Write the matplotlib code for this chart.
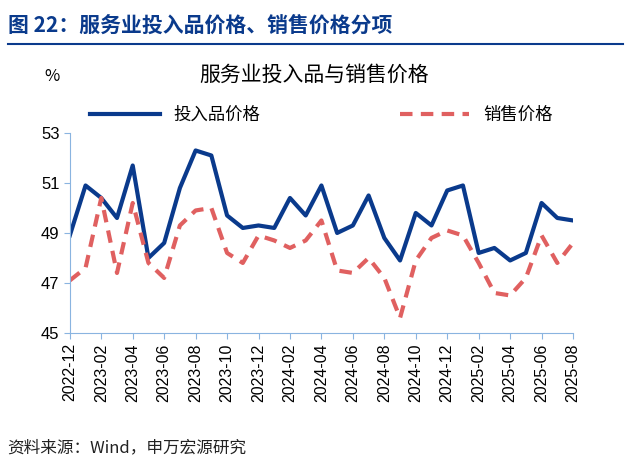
import matplotlib.pyplot as plt
import matplotlib.lines as mlines

plt.rcParams['font.family'] = 'Noto Sans CJK SC'

months = ['2022-12', '2023-01', '2023-02', '2023-03', '2023-04', '2023-05', '2023-06', '2023-07',
          '2023-08', '2023-09', '2023-10', '2023-11', '2023-12', '2024-01', '2024-02', '2024-03',
          '2024-04', '2024-05', '2024-06', '2024-07', '2024-08', '2024-09', '2024-10', '2024-11',
          '2024-12', '2025-01', '2025-02', '2025-03', '2025-04', '2025-05', '2025-06', '2025-07',
          '2025-08']
input_price = [48.9, 50.9, 50.4, 49.6, 51.7, 48.0, 48.6, 50.8, 52.3, 52.1, 49.7, 49.2, 49.3,
               49.2, 50.4, 49.7, 50.9, 49.0, 49.3, 50.5, 48.8, 47.9, 49.8, 49.3, 50.7, 50.9,
               48.2, 48.4, 47.9, 48.2, 50.2, 49.6, 49.5]
sales_price = [47.1, 47.6, 50.4, 47.4, 50.2, 47.8, 47.2, 49.3, 49.9, 50.0, 48.2, 47.8, 48.9,
               48.7, 48.4, 48.7, 49.5, 47.5, 47.4, 48.0, 47.2, 45.6, 47.9, 48.8, 49.1, 48.9,
               47.8, 46.6, 46.5, 47.2, 48.9, 47.8, 48.6]
yticks = [45, 47, 49, 51, 53]

blue = '#0a3a8c'
red = '#e06060'
axc = '#8ab4e0'

fig = plt.figure(figsize=(6.29, 4.65), dpi=100)
fig.text(0.012, 0.945, '图 22：服务业投入品价格、销售价格分项', fontsize=15, fontweight='bold',
         color=blue, va='center')
fig.add_artist(mlines.Line2D([0.012, 0.99], [0.905, 0.905], color=blue, lw=1.5))
fig.text(0.012, 0.037, '资料来源：Wind，申万宏源研究', fontsize=12, color='#222222', va='center')

ax = fig.add_axes([0.111, 0.284, 0.8, 0.43])
x = range(len(months))
ax.plot(x, input_price, color=blue, lw=3, label='投入品价格')
ax.plot(x, sales_price, color=red, lw=3, ls=(0, (3, 2)), label='销售价格')
ax.set_xlim(0, len(months) - 1)
ax.set_ylim(45, 53)
ax.set_yticks(yticks)
ax.set_yticklabels([str(v) for v in yticks], fontsize=12, fontfamily='Liberation Sans')
ax.set_xticks(list(x)[::2])
ax.set_xticklabels(months[::2], rotation=90, fontsize=11.5, fontfamily='Liberation Sans')
for s in ['top', 'right']:
    ax.spines[s].set_visible(False)
for s in ['left', 'bottom']:
    ax.spines[s].set_color(axc)
ax.tick_params(colors=axc, labelcolor='black', direction='out', length=4)
fig.text(0.5, 0.84, '服务业投入品与销售价格', fontsize=15, ha='center', va='center')
fig.text(0.07, 0.825, '%', fontsize=12)
ax.legend(loc='center', bbox_to_anchor=(0.5, 1.09), ncol=2, frameon=False,
          fontsize=12.5, handlelength=4, columnspacing=8)

fig.savefig('out.png', dpi=100)
